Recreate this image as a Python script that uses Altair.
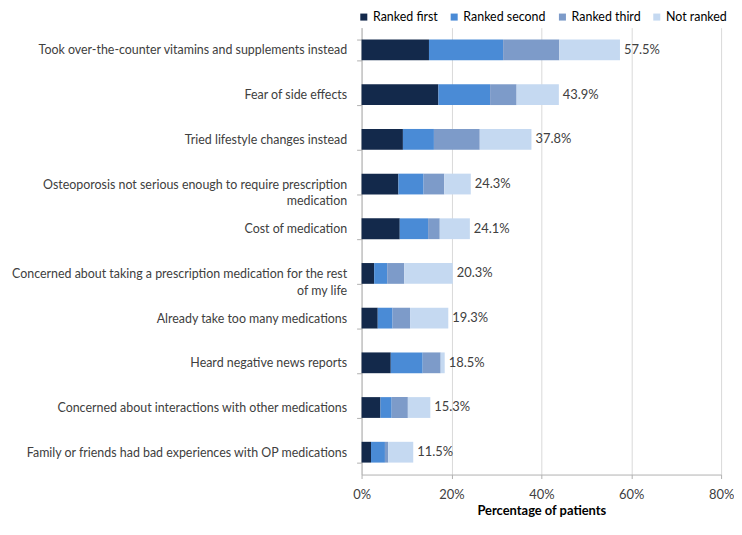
import altair as alt
import pandas as pd

categories = [
    "Took over-the-counter vitamins and supplements instead",
    "Fear of side effects",
    "Tried lifestyle changes instead",
    "Osteoporosis not serious enough to require prescription|medication",
    "Cost of medication",
    "Concerned about taking a prescription medication for the rest|of my life",
    "Already take too many medications",
    "Heard negative news reports",
    "Concerned about interactions with other medications",
    "Family or friends had bad experiences with OP medications",
]
series = ["Ranked first", "Ranked second", "Ranked third", "Not ranked"]
ranked_first = [15.0, 17.1, 9.2, 8.2, 8.5, 2.8, 3.6, 6.5, 4.2, 2.1]
ranked_second = [16.5, 11.5, 6.9, 5.6, 6.3, 2.9, 3.3, 7.1, 2.5, 3.1]
ranked_third = [12.5, 5.9, 10.2, 4.6, 2.6, 3.8, 3.9, 4.0, 3.6, 0.7]
not_ranked = [13.5, 9.4, 11.5, 5.9, 6.7, 10.8, 8.5, 0.9, 5.0, 5.6]
totals = [57.5, 43.9, 37.8, 24.3, 24.1, 20.3, 19.3, 18.5, 15.3, 11.5]
colors = ["#13294b", "#4a8bd6", "#7d9bc9", "#c5d9f1"]

rows = []
for i, c in enumerate(categories):
    for j, vals in enumerate([ranked_first, ranked_second, ranked_third, not_ranked]):
        rows.append({"reason": c, "series": series[j], "ord": j, "value": vals[i]})
df = pd.DataFrame(rows)
tot = pd.DataFrame({"reason": categories, "total": totals,
                    "label": [f"{t:.1f}%" for t in totals]})

FONT = "Lato"

y_enc = alt.Y(
    "reason:N", sort=categories,
    scale=alt.Scale(paddingInner=0.535, paddingOuter=0.2675),
    axis=alt.Axis(
        title=None, labelExpr="split(datum.label, '|')", tickBand="extent",
        labelFontSize=12.5, labelColor="#404040", labelPadding=10,
        labelLineHeight=17, labelLimit=400,
        domainColor="#b0b0b0", tickColor="#b0b0b0", tickSize=5, grid=False,
    ),
)
x_scale = alt.Scale(domain=[0, 80])

bars = alt.Chart(df).mark_bar().encode(
    x=alt.X(
        "value:Q", stack="zero", scale=x_scale,
        axis=alt.Axis(
            values=[0, 20, 40, 60, 80], labelExpr="datum.value + '%'",
            labelFlush=False,
            title="Percentage of patients", titleFontWeight="bold",
            titleFontSize=13, titleColor="#000000", titlePadding=3,
            labelFontSize=13, labelColor="#404040", labelPadding=10,
            grid=True, gridColor="#d9d9d9", domainColor="#b0b0b0",
            tickColor="#b0b0b0", tickSize=4,
        ),
    ),
    y=y_enc,
    color=alt.Color(
        "series:N", sort=series,
        scale=alt.Scale(domain=series, range=colors),
        legend=alt.Legend(
            title=None, orient="none", legendX=-4, legendY=-17,
            direction="horizontal", symbolType="square", symbolSize=50,
            symbolStrokeWidth=0, labelFontSize=12.5, labelColor="#000000",
            columnPadding=10, labelOffset=3,
        ),
    ),
    order=alt.Order("ord:Q"),
)

labels = alt.Chart(tot).mark_text(align="left", dx=4, fontSize=13,
                                  color="#404040", font=FONT).encode(
    x=alt.X("total:Q", scale=x_scale),
    y=alt.Y("reason:N", sort=categories),
    text="label:N",
)

chart = alt.layer(bars, labels).properties(
    width=362, height=450,
    padding={"left": 3, "top": 1, "right": 0, "bottom": 0},
).configure(font=FONT).configure_view(stroke=None)

chart.save("out.html", embed_options={"renderer": "svg", "actions": False})
